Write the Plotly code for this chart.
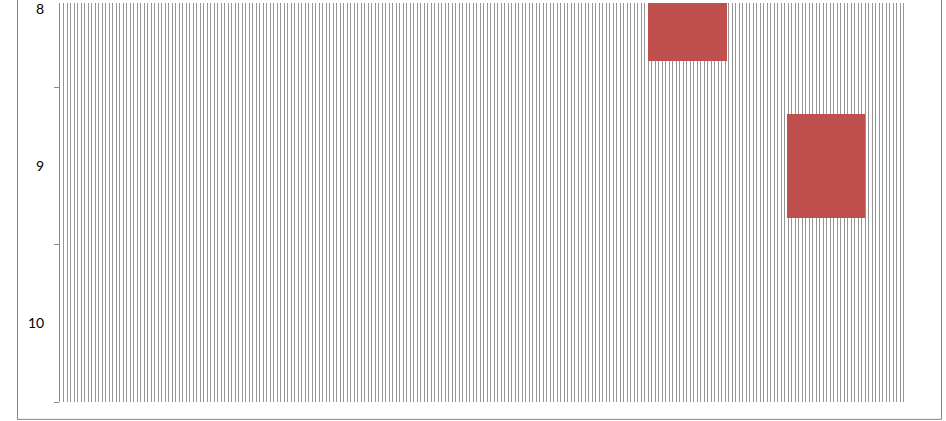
import plotly.graph_objects as go

# Data (Gantt-like floating bars)
rows = [8, 9]
starts = [168.0, 207.6]
durations = [22.6, 22.5]
row_labels = ["8", "9", "10"]
row_values = [8, 9, 10]

fig = go.Figure()
fig.add_trace(go.Bar(
    y=rows, x=durations, base=starts, orientation="h",
    width=0.665,
    marker=dict(color="#C0504D", line=dict(width=0)),
    showlegend=False, hoverinfo="skip",
))

fig.update_layout(
    width=946, height=421,
    margin=dict(l=60, r=39, t=0, b=19),
    paper_bgcolor="white", plot_bgcolor="white",
    font=dict(family="Lato, Carlito, 'Liberation Sans', sans-serif", size=14, color="#000000"),
    bargap=0,
    xaxis=dict(
        range=[0, 242], dtick=1, tick0=0,
        showgrid=True, gridcolor="#969696", gridwidth=1,
        showticklabels=False, ticks="", zeroline=False, showline=False,
    ),
    yaxis=dict(
        range=[10.5, 7.964],
        tickmode="array", tickvals=row_values, ticktext=row_labels,
        ticks="", ticklabelstandoff=12, ticklabeloverflow="allow",
        showgrid=False, zeroline=False,
        showline=True, linecolor="#8a8a8a", linewidth=1,
        minor=dict(tickmode="linear", tick0=8.5, dtick=1, ticks="outside",
                   ticklen=5, tickcolor="#8a8a8a", tickwidth=1, showgrid=False),
    ),
    shapes=[dict(
        type="rect", xref="paper", yref="paper",
        x0=(17.5 - 60) / 847, x1=(941.5 - 60) / 847,
        y0=(402 - 419.5) / 402, y1=1.05,
        line=dict(color="#868686", width=1), fillcolor="rgba(0,0,0,0)", layer="below",
    )],
)

fig.write_html("out.html", config={"displayModeBar": False},
               post_script="document.body.style.margin='0px';")
